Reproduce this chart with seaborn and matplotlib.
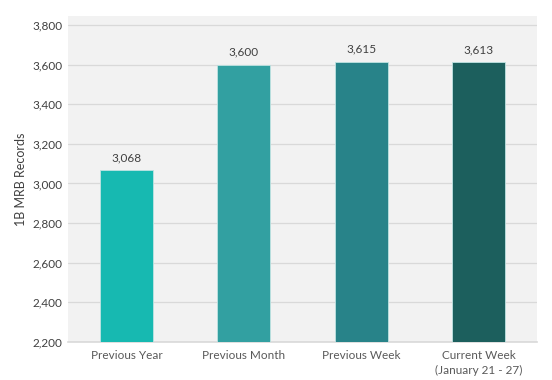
import matplotlib
matplotlib.use("Agg")
import matplotlib.pyplot as plt
import seaborn as sns
import pandas as pd

categories = ["Previous Year", "Previous Month", "Previous Week", "Current Week\n(January 21 - 27)"]
values = [3068, 3600, 3615, 3613]
colors = ["#17b9b1", "#32a0a1", "#288389", "#1c5f5d"]
yticks = [2200, 2400, 2600, 2800, 3000, 3200, 3400, 3600, 3800]

sns.set_theme(style="white")
plt.rcParams["font.family"] = ["Lato", "DejaVu Sans"]

df = pd.DataFrame({"cat": categories, "val": values})

fig = plt.figure(figsize=(5.52, 3.8), dpi=100)
ax = fig.add_axes([68/552, 38/380, (537-68)/552, (342-16)/380])
ax.set_facecolor("#f2f2f2")
sns.barplot(data=df, x="cat", y="val", hue="cat", palette=colors, legend=False,
            saturation=1, width=0.45, ax=ax, edgecolor="#bfe3e2", linewidth=0.6, zorder=3)
ax.set_ylim(2200, 3845)
ax.set_xlim(-0.5, 3.5)
ax.set_yticks(yticks)
ax.set_yticklabels([f"{v:,}" for v in yticks], fontsize=8.5, color="#404040")
ax.tick_params(axis="x", labelsize=8.5, labelcolor="#595959", length=0, pad=6)
ax.tick_params(axis="y", length=0, pad=4)
ax.grid(axis="y", color="#d9d9d9", linewidth=0.9, zorder=0)
ax.set_axisbelow(True)
for s in ["top", "right", "left"]:
    ax.spines[s].set_visible(False)
ax.spines["bottom"].set_color("#d9d9d9")
ax.spines["bottom"].set_linewidth(1.2)
ax.set_xlabel("")
ax.set_ylabel("1B MRB Records", fontsize=9, color="#404040", labelpad=4)
for lbl in ax.get_xticklabels():
    lbl.set_linespacing(1.4)

for i, v in enumerate(values):
    ax.annotate(f"{v:,}", (i, v), xytext=(0, 5), textcoords="offset points",
                ha="center", va="bottom", fontsize=8.5, color="#404040")

fig.savefig("out.png", dpi=100, facecolor="white")
